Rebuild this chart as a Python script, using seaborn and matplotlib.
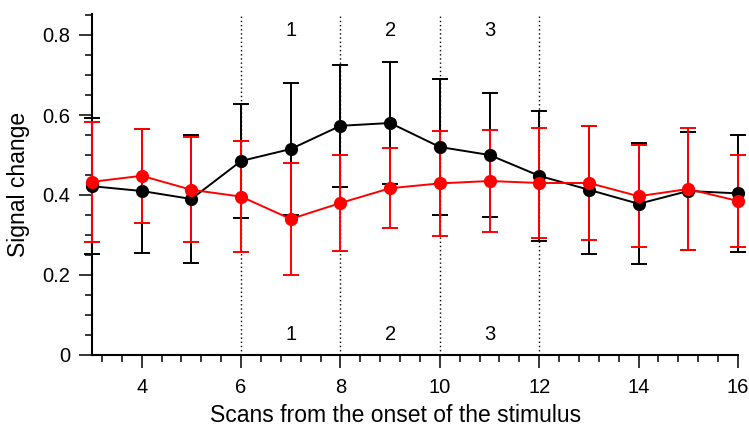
import numpy as np
import pandas as pd
import matplotlib
matplotlib.use("Agg")
import matplotlib.pyplot as plt
from matplotlib.ticker import MultipleLocator
import seaborn as sns

scans = [3, 4, 5, 6, 7, 8, 9, 10, 11, 12, 13, 14, 15, 16]
black_mean = [0.422, 0.410, 0.390, 0.485, 0.515, 0.573, 0.580, 0.520, 0.500, 0.448, 0.413, 0.378, 0.410, 0.404]
black_err = [0.170, 0.155, 0.160, 0.143, 0.165, 0.153, 0.153, 0.170, 0.155, 0.162, 0.160, 0.151, 0.148, 0.146]
red_mean = [0.433, 0.448, 0.413, 0.396, 0.340, 0.380, 0.417, 0.429, 0.435, 0.430, 0.430, 0.397, 0.415, 0.385]
red_err = [0.150, 0.118, 0.131, 0.138, 0.140, 0.120, 0.100, 0.131, 0.128, 0.138, 0.142, 0.127, 0.153, 0.115]
phase_bounds = [6, 8, 10, 12]
phase_labels = ["1", "2", "3"]
phase_centers = [7, 9, 11]
yticks = [0, 0.2, 0.4, 0.6, 0.8]
ytick_labels = ["0", "0.2", "0.4", "0.6", "0.8"]
xticks = [4, 6, 8, 10, 12, 14, 16]

sns.set_style("ticks")
plt.rcParams['font.family'] = ['Liberation Sans', 'DejaVu Sans']
plt.rcParams['text.color'] = 'black'
plt.rcParams['axes.labelcolor'] = 'black'
plt.rcParams['xtick.color'] = 'black'
plt.rcParams['ytick.color'] = 'black'

fig = plt.figure(figsize=(7.49, 4.29), dpi=100)
ax = fig.add_axes([92 / 749, 1 - 355 / 429, (738 - 92) / 749, (355 - 14) / 429])

df = pd.DataFrame({
    "scan": scans * 2,
    "value": black_mean + red_mean,
    "group": ["black"] * len(scans) + ["red"] * len(scans),
})

for grp, mean, err, col in [("black", black_mean, black_err, "black"),
                            ("red", red_mean, red_err, "#ff0000")]:
    ax.errorbar(scans, mean, yerr=err, fmt="none", ecolor=col, elinewidth=1.4,
                capsize=6, capthick=1.4, clip_on=False, zorder=3)
    sns.lineplot(data=df[df.group == grp], x="scan", y="value", color=col,
                 marker="o", markersize=9.5, markeredgewidth=0, linewidth=1.4,
                 ax=ax, legend=False, clip_on=False, zorder=4)

for xb in phase_bounds:
    ax.axvline(xb, color="black", linestyle=(0, (1, 2)), linewidth=1.0, zorder=2)

for xc, lab in zip(phase_centers, phase_labels):
    ax.text(xc, 0.8125, lab, ha="center", va="center", fontsize=14.5, color="black")
    ax.text(xc, 0.05, lab, ha="center", va="center", fontsize=14.5, color="black")

ax.set_xlim(3, 16)
ax.set_ylim(0, 0.8525)
ax.set_xticks(xticks)
ax.set_yticks(yticks)
ax.set_yticklabels(ytick_labels)
ax.xaxis.set_minor_locator(MultipleLocator(0.4))
ax.yaxis.set_minor_locator(MultipleLocator(0.05))
ax.tick_params(axis="both", which="major", direction="out", length=9.5, width=1.1,
               labelsize=14.5, color="black", labelcolor="black")
ax.tick_params(axis="x", which="major", pad=7)
ax.tick_params(axis="y", which="major", pad=6)
ax.tick_params(axis="both", which="minor", direction="out", length=5, width=1.1, color="black")
for s in ["top", "right"]:
    ax.spines[s].set_visible(False)
for s in ["left", "bottom"]:
    ax.spines[s].set_linewidth(1.5)
    ax.spines[s].set_color("black")

ax.set_xlabel("Scans from the onset of the stimulus", fontsize=16.5, color="black")
ax.set_ylabel("Signal change", fontsize=16.5, labelpad=9, color="black")
ax.xaxis.set_label_coords(0.47, -0.143)

fig.savefig("out.png", dpi=100)
